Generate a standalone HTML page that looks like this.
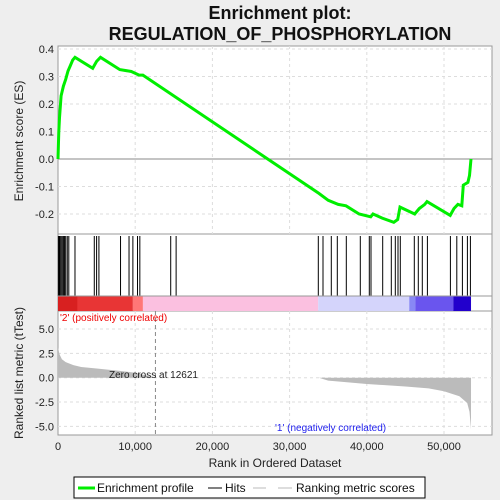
<!DOCTYPE html>
<html><head><meta charset="utf-8"><style>
body{margin:0;background:#eeeeee;}
svg{display:block;font-family:"Liberation Sans","DejaVu Sans",sans-serif;}
</style></head><body>
<svg id="c" width="500" height="500" xmlns="http://www.w3.org/2000/svg">
<text x="280" y="19" text-anchor="middle" font-size="18" font-weight="bold" fill="#111">Enrichment plot:</text>
<text x="280" y="40" text-anchor="middle" font-size="18" font-weight="bold" fill="#111">REGULATION_OF_PHOSPHORYLATION</text>
</svg>
<script>
const esRanks=[0,100,200,300,400,700,1000,1300,1600,1900,2200,4500,5000,5500,8000,9500,10500,11000,33800,35000,36300,37300,39000,40500,40800,42000,43500,44000,44300,46200,46800,47500,47800,50800,51300,51800,52300,52500,53100,53300,53500];
const esValues=[0,0.1,0.15,0.19,0.23,0.265,0.29,0.32,0.34,0.36,0.37,0.33,0.355,0.37,0.325,0.318,0.305,0.305,-0.125,-0.15,-0.165,-0.17,-0.2,-0.21,-0.2,-0.215,-0.23,-0.22,-0.175,-0.2,-0.18,-0.165,-0.155,-0.205,-0.18,-0.165,-0.17,-0.095,-0.085,-0.06,0];
const hitRanks=[50,150,250,400,550,700,850,1000,1200,1400,2200,4700,5000,5300,8100,9200,9700,10300,10600,14600,15300,33718,34326,35401,36179,37345,39158,40324,40544,42059,43174,43692,44041,44339,46153,46671,47189,47850,50829,51658,52383,53031,53420];
const metricRanks=[0,200,500,1000,2000,3000,5000,8000,10000,12621,33800,35000,40000,45000,48000,50000,52000,53000,53300,53500];
const metricValues=[3.1,2.4,1.9,1.6,1.3,1.1,0.95,0.7,0.5,0,0,-0.3,-0.65,-0.9,-1.1,-1.4,-1.9,-2.6,-3.5,-5.3];
const esTicks=[0.4,0.3,0.2,0.1,0.0,-0.1,-0.2];
const metricTicks=[5.0,2.5,0.0,-2.5,-5.0];
const xTicks=[0,10000,20000,30000,40000,50000];
const xTickLabels=["0","10,000","20,000","30,000","40,000","50,000"];

const NS="http://www.w3.org/2000/svg";
const svg=document.getElementById('c');
const L=58,R=492,N=53500;
const X=r=>L+r*0.00772;
const Yes=v=>159-v*275;
const Ym=v=>377.7-v*9.73;
function el(t,a,p){const e=document.createElementNS(NS,t);for(const k in a)e.setAttribute(k,a[k]);(p||svg).appendChild(e);return e;}

const p1=el('rect',{x:L,y:46,width:R-L,height:188,fill:'#fff',stroke:'#999'});


const p2=el('rect',{x:L,y:234,width:R-L,height:77,fill:'#fff',stroke:'#999'});


const p3=el('rect',{x:L,y:311,width:R-L,height:124,fill:'#fff',stroke:'#999'});



xTicks.forEach(t=>{if(t>0){el('line',{x1:X(t),x2:X(t),y1:46,y2:234,stroke:'#ddd','stroke-dasharray':'3,3'});el('line',{x1:X(t),x2:X(t),y1:311,y2:435,stroke:'#ddd','stroke-dasharray':'3,3'});}});
esTicks.forEach(t=>{el('line',{x1:L,x2:R,y1:Yes(t),y2:Yes(t),stroke:t===0?'#888':'#ddd','stroke-dasharray':t===0?'':'3,3'});
 const tx=el('text',{x:L-4,y:Yes(t)+4,'text-anchor':'end','font-size':11,fill:'#222'});tx.textContent=t.toFixed(1);
 
 });
metricTicks.forEach(t=>{el('line',{x1:L,x2:R,y1:Ym(t),y2:Ym(t),stroke:'#ddd','stroke-dasharray':'3,3'});
 const tx=el('text',{x:L-4,y:Ym(t)+4,'text-anchor':'end','font-size':11,fill:'#222'});tx.textContent=t.toFixed(1);
 
 });

let d=esRanks.map((r,i)=>(i?'L':'M')+X(r).toFixed(1)+','+Yes(esValues[i]).toFixed(1)).join(' ');
const esl=el('path',{d:d,fill:'none',stroke:'#00ee00','stroke-width':3});



hitRanks.forEach(r=>{const h=el('line',{x1:X(r),x2:X(r),y1:236,y2:296,stroke:'#000','stroke-width':1});
 
 });

const bands=[[0,9700,'#e83535'],[0,2500,'#d82020'],[9700,11000,'#f77'],[11000,33700,'#fbc0e0'],[33700,45500,'#d4d4fb'],[45500,46300,'#8888f5'],[46300,51200,'#6a55ee'],[51200,53500,'#2200cc']];
bands.forEach(b=>{const r=el('rect',{x:X(b[0]),y:296,width:X(b[1])-X(b[0]),height:15,fill:b[2]});
 
 });
el('line',{x1:L,x2:R,y1:296,y2:296,stroke:'#999'});

let m='M'+X(0)+','+Ym(0)+' '+metricRanks.map((r,i)=>'L'+X(r).toFixed(1)+','+Ym(metricValues[i]).toFixed(1)).join(' ')+' L'+X(N)+','+Ym(0)+'Z';
const ma=el('path',{d:m,fill:'#bbb',stroke:'none'});


el('line',{x1:X(12621),x2:X(12621),y1:311,y2:435,stroke:'#888','stroke-dasharray':'4,3'});

function txt(s,a,name){const t=el('text',a);t.textContent=s;return t;}
txt("Zero cross at 12621",{x:109,y:378,'font-size':10,fill:'#222'},'zero-cross-label');
txt("'2' (positively correlated)",{x:60,y:321,'font-size':10,fill:'#ee0000'},'positive-label');
txt("'1' (negatively correlated)",{x:275,y:431,'font-size':10,fill:'#2222ee'},'negative-label');

xTicks.forEach((t,i)=>{txt(xTickLabels[i],{x:X(t),y:450,'text-anchor':'middle','font-size':11,fill:'#222'},'x-tick-label');});
txt("Rank in Ordered Dataset",{x:275,y:467,'text-anchor':'middle','font-size':12,fill:'#222'},'x-axis-title');
txt("Enrichment score (ES)",{x:0,y:0,'text-anchor':'middle','font-size':12,fill:'#222',transform:'translate(23,141) rotate(-90)'},'es-axis-title');
txt("Ranked list metric (tTest)",{x:0,y:0,'text-anchor':'middle','font-size':12,fill:'#222',transform:'translate(23,373) rotate(-90)'},'metric-axis-title');

const lg=el('rect',{x:74,y:477,width:351,height:21,fill:'#fff',stroke:'#000'});


el('line',{x1:78,x2:95,y1:488,y2:488,stroke:'#00ee00','stroke-width':3});
txt("Enrichment profile",{x:97,y:492,'font-size':12,fill:'#111'},'legend-entry-enrichment');
el('line',{x1:208,x2:222,y1:488,y2:488,stroke:'#000'});
txt("Hits",{x:225,y:492,'font-size':12,fill:'#111'},'legend-entry-hits');
el('line',{x1:253,x2:266,y1:488,y2:488,stroke:'#bbb'});
el('line',{x1:278,x2:292,y1:488,y2:488,stroke:'#bbb'});
txt("Ranking metric scores",{x:296,y:492,'font-size':12,fill:'#111'},'legend-entry-metric');
</script>
</body></html>
